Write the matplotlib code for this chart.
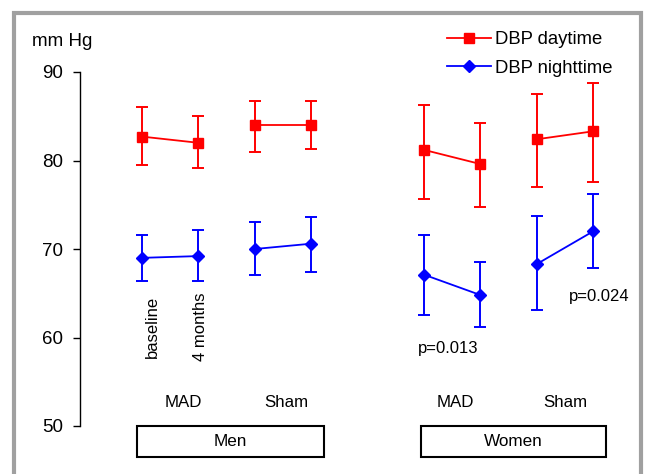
import numpy as np
import matplotlib
matplotlib.use("Agg")
import matplotlib.pyplot as plt
from matplotlib.lines import Line2D
from matplotlib.patches import Rectangle

plt.rcParams['font.family'] = ['Liberation Sans', 'DejaVu Sans']

# x slots: Men MAD (base, 4mo), Men Sham, gap, Women MAD, Women Sham
xpos = [0, 1, 2, 3, 5, 6, 7, 8]
pairs = [(0, 2), (2, 4), (4, 6), (6, 8)]

day_mean = [82.7, 82.0, 84.0, 84.0, 81.2, 79.6, 82.4, 83.3]
day_low = [79.5, 79.1, 81.0, 81.3, 75.7, 74.8, 77.0, 77.6]
day_high = [86.0, 85.0, 86.7, 86.7, 86.3, 84.2, 87.5, 88.8]

night_mean = [69.0, 69.2, 70.0, 70.6, 67.1, 64.8, 68.3, 72.0]
night_low = [66.4, 66.4, 67.1, 67.4, 62.5, 61.2, 63.1, 67.8]
night_high = [71.6, 72.2, 73.0, 73.6, 71.6, 68.5, 73.7, 76.2]

group_labels = ["MAD", "Sham", "MAD", "Sham"]
group_label_x = [0.73, 2.56, 5.55, 7.5]
sex_labels = ["Men", "Women"]
sex_box_x = [(-0.09, 3.23), (4.94, 8.23)]

W, H = 647, 474
fig = plt.figure(figsize=(W / 100, H / 100), dpi=100)
ax = fig.add_axes([80 / W, (H - 426) / H, (650 - 80) / W, (426 - 72) / H])
ax.set_xlim(-62 / 56.4, (650 - 142) / 56.4)
ax.set_ylim(50, 90)

series = [
    (day_mean, day_low, day_high, "#ff0000", "s", 7),
    (night_mean, night_low, night_high, "#0000ff", "D", 6.5),
]
for mean, low, high, col, mk, ms in series:
    mean = np.array(mean)
    err = [mean - np.array(low), np.array(high) - mean]
    ax.errorbar(xpos, mean, yerr=err, fmt="none", ecolor=col,
                elinewidth=1.4, capsize=4.3, capthick=1.4)
    for a, b in pairs:
        ax.plot(xpos[a:b], mean[a:b], color=col, lw=1.3, marker=mk,
                ms=ms, mec=col, mfc=col)

for s in ["top", "right", "bottom"]:
    ax.spines[s].set_visible(False)
ax.spines["left"].set_linewidth(1.0)
ax.set_xticks([])
ax.set_yticks([50, 60, 70, 80, 90])
ax.tick_params(axis="y", direction="out", length=5, width=1.0, pad=7,
               labelsize=13.5)

ax.text(-1.42, 93.4, "mm Hg", fontsize=13.5, ha="center", va="center")

ax.text(0.18, 61.2, "baseline", rotation=90, fontsize=12,
        ha="center", va="center")
ax.text(1.04, 61.2, "4 months", rotation=90, fontsize=12,
        ha="center", va="center")

ax.text(5.43, 58.8, "p=0.013", fontsize=12, ha="center", va="center")
ax.text(8.11, 64.65, "p=0.024", fontsize=12, ha="center", va="center")

for lab, gx in zip(group_labels, group_label_x):
    ax.text(gx, 52.7, lab, fontsize=12.2, ha="center", va="center")

for lab, (x0, x1) in zip(sex_labels, sex_box_x):
    ax.add_patch(Rectangle((x0, 46.5), x1 - x0, 3.5, fill=False,
                           ec="black", lw=1.5, clip_on=False))
    ax.text((x0 + x1) / 2, 48.2, lab, fontsize=12.3, ha="center",
            va="center", clip_on=False)

handles = [
    Line2D([], [], color="#ff0000", lw=1.3, marker="s", ms=7),
    Line2D([], [], color="#0000ff", lw=1.3, marker="D", ms=6.5),
]
fig.legend(handles, ["DBP daytime", "DBP nighttime"], loc="upper left",
           bbox_to_anchor=(447 / W, 1 - 31 / H), frameon=False,
           fontsize=13.3, handlelength=2.4, handletextpad=0.22,
           borderpad=0, borderaxespad=0, labelspacing=0.63)

# grey frame around the whole chart
fig.add_artist(Rectangle((14 / W, -0.05), (641 - 14) / W, 1.05 - 13 / H,
                         transform=fig.transFigure, fill=False,
                         ec="#a0a0a0", lw=3))

fig.savefig("out.png", dpi=100)
